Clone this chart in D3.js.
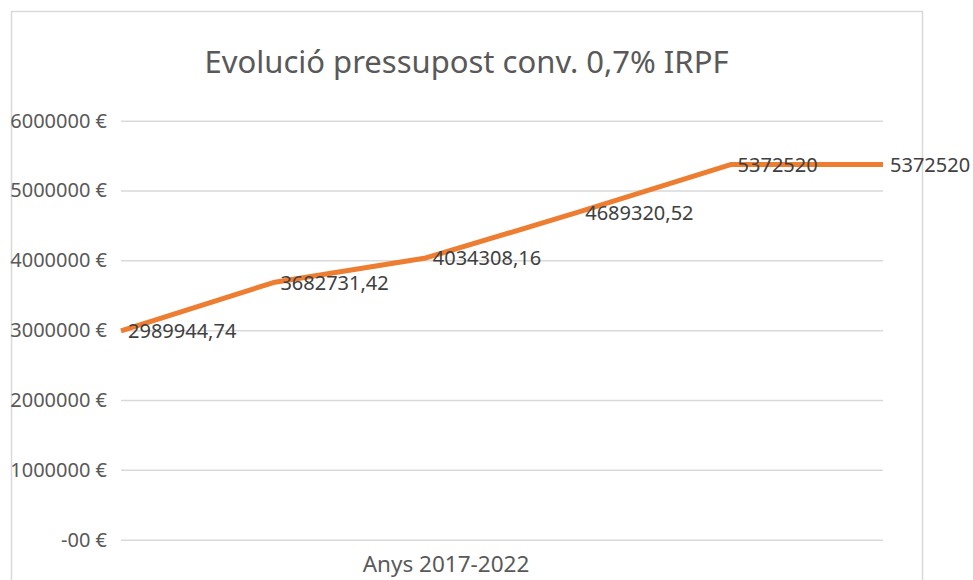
<!DOCTYPE html>
<html>
<head>
<meta charset="utf-8">
<script src="https://cdn.jsdelivr.net/npm/d3@7"></script>
<style>
  body { margin: 0; background: #fff; }
  text { font-family: "Noto Sans", "Open Sans", sans-serif; }
</style>
</head>
<body>
<div id="chart"></div>
<script>
// chart data
var years = ['2017', '2018', '2019', '2020', '2021', '2022'];
var budget = [2989944.74, 3682731.42, 4034308.16, 4689320.52, 5372520, 5372520];
var budget_labels = ['2989944,74', '3682731,42', '4034308,16', '4689320,52', '5372520', '5372520'];
var y_ticks = [0, 1000000, 2000000, 3000000, 4000000, 5000000, 6000000];
var title = 'Evolució pressupost conv. 0,7% IRPF';
var x_title = 'Anys 2017-2022';

var width = 973, height = 580;
var plot_left = 121, plot_right = 883;
var plot_top = 120.7, plot_bottom = 539.7;

var svg = d3.select('#chart').append('svg')
  .attr('width', width)
  .attr('height', height);

// chart frame
svg.append('rect')
  .attr('x', 11.5)
  .attr('y', 11.5)
  .attr('width', 911)
  .attr('height', 600)
  .attr('fill', 'none')
  .attr('stroke', '#d9d9d9')
  .attr('stroke-width', 1.5);

svg.append('text')
  .attr('x', 466.5)
  .attr('y', 72.7)
  .attr('text-anchor', 'middle')
  .attr('font-size', 31)
  .attr('fill', '#595959')
  .text(title);

var x = d3.scalePoint()
  .domain(years)
  .range([plot_left, plot_right]);

var y = d3.scaleLinear()
  .domain([0, 6000000])
  .range([plot_bottom, plot_top]);

// gridlines + y labels
var y_axis = svg.append('g')
  .attr('transform', 'translate(' + plot_left + ',0)')
  .call(d3.axisLeft(y)
    .tickValues(y_ticks)
    .tickSize(-(plot_right - plot_left))
    .tickPadding(14)
    .tickFormat(d => (d === 0 ? '-00' : d) + ' €'));
y_axis.select('.domain').remove();
y_axis.selectAll('line')
  .attr('stroke', '#d9d9d9')
  .attr('stroke-width', 1.5);
y_axis.selectAll('text')
  .attr('font-size', 20)
  .attr('fill', '#595959');

svg.append('text')
  .attr('x', 446)
  .attr('y', 572)
  .attr('text-anchor', 'middle')
  .attr('font-size', 22.5)
  .attr('fill', '#595959')
  .text(x_title);

var line = d3.line()
  .x((d, i) => x(years[i]))
  .y(d => y(d));

svg.append('path')
  .datum(budget)
  .attr('d', line)
  .attr('fill', 'none')
  .attr('stroke', '#ed7d31')
  .attr('stroke-width', 5)
  .attr('stroke-linejoin', 'round');

svg.append('g')
  .selectAll('text')
  .data(budget)
  .join('text')
  .attr('x', (d, i) => x(years[i]) + 7)
  .attr('y', d => y(d))
  .attr('dominant-baseline', 'central')
  .attr('font-size', 20)
  .attr('fill', '#404040')
  .text((d, i) => budget_labels[i]);
</script>
</body>
</html>
